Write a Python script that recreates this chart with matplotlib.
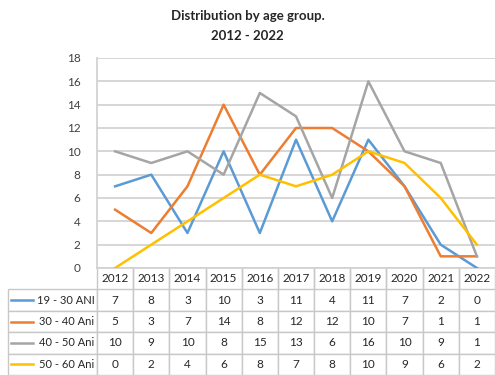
import matplotlib.pyplot as plt
import numpy as np

plt.rcParams['font.family'] = ['Lato', 'DejaVu Sans']

# Data
years = ['2012', '2013', '2014', '2015', '2016', '2017', '2018', '2019', '2020', '2021', '2022']
group_labels = ['19 - 30 ANI', '30 - 40 Ani', '40 - 50 Ani', '50 - 60 Ani']
g19_30 = [7, 8, 3, 10, 3, 11, 4, 11, 7, 2, 0]
g30_40 = [5, 3, 7, 14, 8, 12, 12, 10, 7, 1, 1]
g40_50 = [10, 9, 10, 8, 15, 13, 6, 16, 10, 9, 1]
g50_60 = [0, 2, 4, 6, 8, 7, 8, 10, 9, 6, 2]
colors = ['#5B9BD5', '#ED7D31', '#A5A5A5', '#FFC000']

series = [g19_30, g30_40, g40_50, g50_60]

fig = plt.figure(figsize=(4.95, 3.75), dpi=100)
ax = fig.add_axes([97 / 495, 1 - 268 / 375, 398 / 495, 210 / 375])

x = np.arange(len(years))
for vals, c in zip(series, colors):
    ax.plot(x, vals, color=c, linewidth=1.8, zorder=3)

ax.set_xlim(-0.5, len(years) - 0.5)
ax.set_ylim(0, 18)
ax.set_yticks(range(0, 19, 2))
ax.set_xticks([])
ax.tick_params(axis='y', length=0, labelsize=8.5, colors='#404040', pad=12)
ax.grid(axis='y', color='#D0D0D0', linewidth=1.2)
ax.set_axisbelow(True)
for s in ['top', 'right']:
    ax.spines[s].set_visible(False)
ax.spines['left'].set_color('#D0D0D0')
ax.spines['left'].set_linewidth(1.2)
ax.spines['bottom'].set_color('#D0D0D0')
ax.spines['bottom'].set_linewidth(1.2)

# Data table (first column holds the series names)
label_w = 89
col_w = 398 / len(years)
cell_text = [[lab] + [str(v) for v in vals] for lab, vals in zip(group_labels, series)]
tbl = ax.table(cellText=cell_text, colLabels=[''] + years, cellLoc='center',
               bbox=[-label_w / 398, -107 / 210, 1 + label_w / 398, 107 / 210])
tbl.auto_set_font_size(False)
tbl.set_fontsize(8.5)
for (r, c), cell in tbl.get_celld().items():
    cell.set_edgecolor('#C8C8C8')
    cell.set_linewidth(1.0)
    cell.get_text().set_color('#262626')
    cell.set_width(label_w if c == 0 else col_w)
    if r == 0 and c == 0:
        cell.visible_edges = ''
    if r == 0 and c > 0:
        cell.visible_edges = 'LR'
    if c == 0 and r > 0:
        cell.get_text().set_ha('right')
        cell.get_text().set_fontsize(8)
        cell.PAD = 0.03

# Legend keys in the name column
row_h = (107 / 5) / 210
for i, c in enumerate(colors):
    yy = -(i + 1.5) * row_h
    ax.plot([-86 / 398, -64 / 398], [yy, yy], color=c, linewidth=1.8,
            transform=ax.transAxes, clip_on=False)

fig.text(0.5, 1 - 16 / 375, 'Distribution by age group.', ha='center', va='center',
         fontsize=9.5, fontweight='bold', color='#262626')
fig.text(0.5, 1 - 36 / 375, '2012 - 2022', ha='center', va='center',
         fontsize=9.5, fontweight='bold', color='#262626')

fig.savefig('out.png', dpi=100)
